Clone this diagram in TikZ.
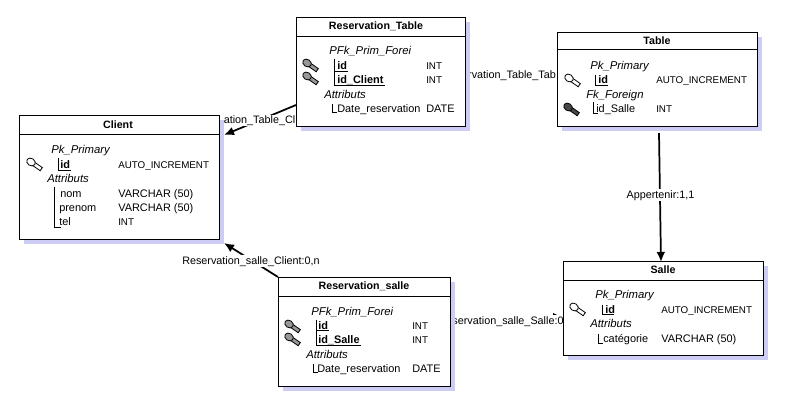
\documentclass[tikz,border=0pt]{standalone}
\usepackage{fontspec}
\setmainfont{Liberation Sans}
\usetikzlibrary{arrows.meta}

\definecolor{shadowblue}{HTML}{CCCCF5}
\definecolor{keygrey}{HTML}{989898}
\definecolor{keydark}{HTML}{484848}

\tikzset{
    tablebox/.style={draw=black,fill=white,line width=0.75pt,anchor=north west,inner sep=0pt,outer sep=0pt,xshift=0.375pt,yshift=-0.375pt},
    tableshadow/.style={fill=shadowblue,draw=none},
    headrule/.style={line width=0.75pt,xshift=0.375pt,yshift=-0.375pt},
    title/.style={font=\fontsize{8}{10}\selectfont\bfseries,inner sep=0pt,anchor=base,yshift=-3pt},
    field/.style={font=\fontsize{8.2}{10}\selectfont,anchor=base west,inner sep=0pt,yshift=-3pt},
    typefield/.style={field,font=\fontsize{7.35}{10}\selectfont},
    keyfield/.style={field,font=\fontsize{8.2}{10}\selectfont\bfseries},
    group/.style={field,font=\fontsize{8.5}{10}\selectfont\itshape},
    tree/.style={line width=0.75pt,xshift=0.375pt,yshift=-0.375pt},
    relation/.style={line width=1.3pt,-{Latex[length=7.5pt,width=6.5pt]}},
    rolelabel/.style={font=\fontsize{8.1}{10}\selectfont,fill=white,inner xsep=1pt,inner ysep=0.5pt,text height=6pt,text depth=1.5pt,anchor=base,yshift=-3pt},
    keyicon/.pic={
        \draw[line width=0.6pt,fill=#1,rotate=-35] (3,-1.9) -- (12.5,-1.9) -- (12.5,1.9) -- (3,1.9) -- cycle;
        \draw[line width=0.6pt,fill=#1,rotate=-35] (0,0) ellipse (4.6 and 3.6);
    }
}

\begin{document}
\begin{tikzpicture}[x=0.75pt,y=-0.75pt]
    \useasboundingbox[fill=white] (0,0) rectangle (803,411);

    % connectors first, the tables lie on top of them
    \coordinate (rtleft) at (296,105);
    \coordinate (clienttop) at (224,135);
    \coordinate (rsleft) at (278,277);
    \coordinate (clientlow) at (224,243);
    \coordinate (rtright) at (467,75);
    \coordinate (tableleft) at (557,75);
    \coordinate (rsright) at (452,317);
    \coordinate (salleleft) at (563,317);
    \coordinate (tablelow) at (659,133);
    \coordinate (salletop) at (661,262);

    \draw[relation] (rtleft) -- (clienttop);
    \draw[relation] (rsleft) -- (clientlow);
    \draw[relation] (rtright) -- (tableleft);
    \draw[relation] (rsright) -- (salleleft);
    \draw[relation] (tablelow) -- (salletop);

    \node[rolelabel] (labelrtclient) at (259.5,119.5) {ation\_Table\_Cl};
    \node[rolelabel] (labelrsclient) at (251,260) {Reservation\_salle\_Client:0,n};
    \node[rolelabel] (labelrttable) at (512,74) {rvation\_Table\_Tab};
    \node[rolelabel] (labelrssalle) at (508,320) {servation\_salle\_Salle:0};
    \node[rolelabel] (labelappart) at (660.5,194) {Appertenir:1,1};

    % Client
    \fill[tableshadow] (24,120) rectangle (224,244);
    \node[tablebox,minimum width=150pt,minimum height=93pt] (client) at (19,115) {};
    \draw[headrule] (19,134) -- (219,134);
    \node[title] (clienttitle) at (118,124) {Client};
    \node[group] (clientpk) at (51,149) {Pk\_Primary};
    \node[keyfield] (clientid) at (60,164) {id};
    \node[typefield] (clientidtype) at (118,164) {AUTO\_INCREMENT};
    \node[group] (clientattr) at (47,178) {Attributs};
    \node[field] (clientnom) at (60,193) {nom};
    \node[field] (clientnomtype) at (118,193) {VARCHAR (50)};
    \node[field] (clientprenom) at (59,207) {prenom};
    \node[field] (clientprenomtype) at (118,207) {VARCHAR (50)};
    \node[field] (clienttel) at (59,221) {tel};
    \node[typefield] (clientteltype) at (118,221) {INT};
    \draw[tree] (58,157) -- (58,170) -- (70,170);
    \draw[tree] (54,186) -- (54,227) -- (60,227);
    \pic at (31,162) {keyicon=white};

    % Reservation_Table
    \fill[tableshadow] (301,22) rectangle (470,131);
    \node[tablebox,minimum width=126.75pt,minimum height=81.75pt] (rtable) at (296,17) {};
    \draw[headrule] (296,36) -- (465,36);
    \node[title] (rtabletitle) at (376,25) {Reservation\_Table};
    \node[group] (rtablepfk) at (329,50) {PFk\_Prim\_Forei};
    \node[keyfield] (rtableid) at (337,65) {id};
    \node[typefield] (rtableidtype) at (426,65) {INT};
    \node[keyfield] (rtableclient) at (337,79) {id\_Client};
    \node[typefield] (rtableclienttype) at (426,79) {INT};
    \node[group] (rtableattr) at (324,94) {Attributs};
    \node[field] (rtabledate) at (337,108) {Date\_reservation};
    \node[field] (rtabledatetype) at (426,108) {DATE};
    \draw[tree] (334,58) -- (334,85) -- (384,85);
    \draw[tree] (334,71) -- (347,71);
    \draw[tree] (332,103) -- (332,112) -- (336,112);
    \pic at (307,63) {keyicon=keygrey};
    \pic at (307,76) {keyicon=keygrey};

    % Table
    \fill[tableshadow] (562,37) rectangle (762,131);
    \node[tablebox,minimum width=150pt,minimum height=70.5pt] (table) at (557,32) {};
    \draw[headrule] (557,49) -- (757,49);
    \node[title] (tabletitle) at (657,40) {Table};
    \node[group] (tablepk) at (590,65) {Pk\_Primary};
    \node[keyfield] (tableid) at (598,79) {id};
    \node[typefield] (tableidtype) at (656,79) {AUTO\_INCREMENT};
    \node[group] (tablefk) at (586,94) {Fk\_Foreign};
    \node[field] (tablesalle) at (596,108) {id\_Salle};
    \node[typefield] (tablesalletype) at (656,108) {INT};
    \draw[tree] (595,74) -- (595,85) -- (607,85);
    \draw[tree] (593,101) -- (593,113) -- (597,113);
    \pic at (569,78) {keyicon=white};
    \pic at (568,107) {keyicon=keydark};

    % Salle
    \fill[tableshadow] (568,266) rectangle (768,360);
    \node[tablebox,minimum width=150pt,minimum height=70.5pt] (salle) at (563,261) {};
    \draw[headrule] (563,280) -- (763,280);
    \node[title] (salletitle) at (663,269) {Salle};
    \node[group] (sallepk) at (595,294) {Pk\_Primary};
    \node[keyfield] (salleid) at (605,309) {id};
    \node[typefield] (salleidtype) at (661,309) {AUTO\_INCREMENT};
    \node[group] (salleattr) at (590,323) {Attributs};
    \node[field] (sallecat) at (603,338) {catégorie};
    \node[field] (sallecattype) at (661,338) {VARCHAR (50)};
    \draw[tree] (602,304) -- (602,314) -- (613,314);
    \draw[tree] (598,333) -- (598,343) -- (602,343);
    \pic at (574,307) {keyicon=white};

    % Reservation_salle
    \fill[tableshadow] (283,282) rectangle (455,391);
    \node[tablebox,minimum width=129pt,minimum height=81.75pt] (rsalle) at (278,277) {};
    \draw[headrule] (278,296) -- (450,296);
    \node[title] (rsalletitle) at (364,285) {Reservation\_salle};
    \node[group] (rsallepfk) at (311,311) {PFk\_Prim\_Forei};
    \node[keyfield] (rsalleid) at (318,325) {id};
    \node[typefield] (rsalleidtype) at (412,325) {INT};
    \node[keyfield] (rsallesalle) at (318,339) {id\_Salle};
    \node[typefield] (rsallesalletype) at (412,339) {INT};
    \node[group] (rsalleattr) at (306,354) {Attributs};
    \node[field] (rsalledate) at (317,368) {Date\_reservation};
    \node[field] (rsalledatetype) at (412,368) {DATE};
    \draw[tree] (316,319) -- (316,345) -- (360,345);
    \draw[tree] (316,330) -- (328,330);
    \draw[tree] (313,363) -- (313,372) -- (317,372);
    \pic at (289,324) {keyicon=keygrey};
    \pic at (289,337) {keyicon=keygrey};
\end{tikzpicture}
\end{document}
